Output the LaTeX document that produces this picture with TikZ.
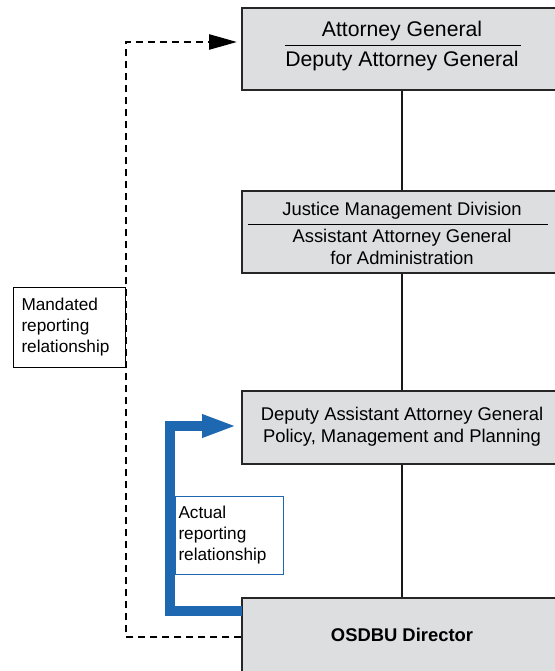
\documentclass[tikz,border=0pt]{standalone}
\usepackage{fontspec}
\setmainfont{Liberation Sans}
\usepackage{tikz}
\usetikzlibrary{calc, positioning}
\usetikzlibrary{arrows.meta}
\tikzset{>=stealth}
\definecolor{boxgray}{RGB}{221,222,224}
\definecolor{actualblue}{RGB}{30,104,178}

\begin{document}
\begin{tikzpicture}[x=1pt,y=-1pt,
		office/.style={draw=black!85, line width=1.3pt, fill=boxgray, minimum width=320pt, inner sep=0pt},
		link/.style={line width=2pt, black!90},
		mandated/.style={line width=2.6pt, dash pattern=on 7pt off 5pt, -{Triangle[length=28pt,width=15pt]}},
		actual/.style={actualblue, line width=10pt, -{Triangle[length=35pt,width=21pt]}},
		relbox/.style={align=left, anchor=north west, font=\fontsize{17.2}{21}\selectfont}]
			\useasboundingbox (0,0) rectangle (554,671);
			\node [office, minimum height=82pt] (ag) at (402,49) {};
			\node [office, minimum height=82pt] (jmd) at (402,232) {};
			\node [office, minimum height=73pt] (daag) at (402,427.5) {};
			\node [office, minimum height=78pt] (osdbu) at (402,637) {};
			\draw [link] (ag) -- (jmd);
			\draw [link] (jmd) -- (daag);
			\draw [link] (daag) -- (osdbu);
			\node [font=\fontsize{21.2}{25}\selectfont] (agname) at (402,31) {Attorney General};
			\node [font=\fontsize{21.2}{25}\selectfont] (dagname) at (402,61) {Deputy Attorney General};
			\draw [line width=1pt] (285,46) -- (521,46);
			\node [font=\fontsize{18.4}{22}\selectfont] (jmdname) at (402,211) {Justice Management Division};
			\node [font=\fontsize{18.4}{22}\selectfont, align=center] (aagname) at (402,247) {Assistant Attorney General\\for Administration};
			\draw [line width=1pt] (248,224) -- (548,224);
			\node [font=\fontsize{18.4}{22}\selectfont, align=center] (daagname) at (402,427) {Deputy Assistant Attorney General\\Policy, Management and Planning};
			\node [font=\bfseries\fontsize{18.4}{22}\selectfont] (osdbuname) at (402,635) {OSDBU Director};
			\node [relbox, draw=black, line width=1pt, fill=white, inner xsep=8pt, text width=96pt, minimum height=80pt] (mreport) at (13,287) {Mandated\\reporting\\relationship};
			\node [relbox, draw=actualblue, line width=1pt, fill=white, inner xsep=3pt, text width=102pt, minimum height=78pt] (areport) at (175,496) {Actual\\reporting\\relationship};
			\coordinate (mtip) at (237,42);
			\coordinate (astart) at (242,611);
			\coordinate (atip) at (237,426);
			\draw [mandated] (osdbu.west) -| (mtip -| mreport.east) -- (mtip);
			\draw [actual] (astart) -| ([xshift=-5pt]areport.west |- atip) -- (atip);
		\end{tikzpicture}
\end{document}
